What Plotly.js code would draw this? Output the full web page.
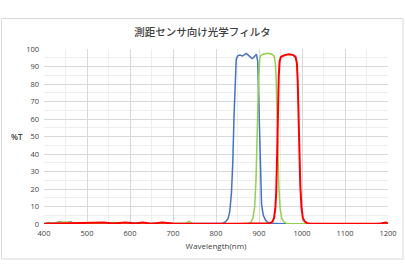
<!DOCTYPE html>
<html><head><meta charset="utf-8">
<script src="https://cdn.plot.ly/plotly-3.0.1.min.js"></script>
<style>html,body{margin:0;padding:0;background:#fff;}#chart{width:405px;height:280px;}</style>
</head><body><div id="chart"></div>
<script>
const titleText = "測距センサ向け光学フィルタ";
const xTitle = "Wavelength(nm)";
const yTitle = "%T";
const xTicks = [400,500,600,700,800,900,1000,1100,1200];
const yTicks = [0,10,20,30,40,50,60,70,80,90,100];

const blueX = [400,410,420,430,437,445,462,470,480,500,520,540,560,580,600,620,650,700,750,780,800,815,822,828,832,836,839,842,845,847,850,855,862,870,875,880,884,887,890,894,897,899,901,903,906,910,915,920,930,950,1000,1100,1200];
const blueY = [0,0.8,0.3,1.0,1.3,0.2,1.2,0.3,0.6,0.2,0.1,0.3,0.5,0.3,0.8,0.2,0.3,0.2,0.5,0.2,0.3,0.5,1.2,3,7,18,35,62,85,94,96,96.5,96,97.5,96.5,95.5,94.5,95,96,97,93,75,45,24,11,5,2.2,1.0,0.4,0.2,0.1,0.1,0.1];

const greenX = [400,412,425,440,460,475,490,510,530,550,565,580,600,630,660,690,710,730,737,745,770,800,830,860,875,882,886,890,893,896,899,902,905,910,920,930,935,938,940,942,944,946,949,953,958,963,970,1000,1100,1200];
const greenY = [0.2,0.6,0.4,1.2,1.0,0.4,0.5,0.2,0.4,0.6,0.8,0.5,0.4,0.2,0.3,0.2,0.3,0.4,1.5,0.3,0.2,0.1,0.1,0.2,0.5,1.2,3.5,10,25,55,83,95,96.5,97,97.5,97,96,92,82,62,40,22,9,3,1.2,0.5,0.3,0.1,0.1,0.1];

const redX = [400,420,450,480,505,540,560,590,610,630,650,675,700,720,750,800,850,880,900,915,925,931,935,938,940,942,944,946,948,951,955,960,970,980,985,988,990,992,994,996,999,1002,1006,1012,1020,1050,1100,1150,1180,1195,1200];
const redY = [0.1,0.2,0.1,0.4,0.5,0.8,0.3,0.9,0.3,0.8,0.2,0.8,0.3,0.2,0.3,0.1,0.1,0.2,0.1,0.2,0.4,1.2,3.5,9,18,38,65,85,93,95.5,96,96.5,97,96.5,95.5,92,82,62,40,22,9,3.5,1.5,0.5,0.2,0.1,0.1,0.1,0.2,0.8,0.4];

const traces = [
  {x: blueX, y: blueY, mode: "lines", line: {color: "#4472C4", width: 1.5}},
  {x: greenX, y: greenY, mode: "lines", line: {color: "#92D050", width: 1.5}},
  {x: redX, y: redY, mode: "lines", line: {color: "#FF0000", width: 2}}
];

const tickFont = {family: "Open Sans, Noto Sans, sans-serif", size: 7.5, color: "#404040"};
const layout = {
  width: 405, height: 280,
  margin: {l: 44, r: 17, t: 49, b: 56, pad: 0},
  paper_bgcolor: "#ffffff", plot_bgcolor: "#ffffff",
  showlegend: false,
  title: {text: titleText, font: {family: "Noto Sans CJK JP", size: 10.5, color: "#404040", weight: 500}, x: 0.5, xanchor: "center", y: 1 - 32/280, yanchor: "middle"},
  xaxis: {
    range: [400, 1200], tickvals: xTicks, ticktext: xTicks.map(String),
    showgrid: true, gridcolor: "#d9d9d9", gridwidth: 1,
    minor: {dtick: 50, tick0: 400, showgrid: true, gridcolor: "#eeeeee", gridwidth: 1},
    zeroline: false, showline: false, ticks: "",
    tickfont: tickFont, ticklabelstandoff: 3,
    title: {text: xTitle, font: {family: "Open Sans, Noto Sans, sans-serif", size: 8, color: "#404040"}, standoff: 6}
  },
  yaxis: {
    range: [0, 100], tickvals: yTicks, ticktext: yTicks.map(String),
    showgrid: true, gridcolor: "#d9d9d9", gridwidth: 1,
    minor: {dtick: 5, tick0: 0, showgrid: true, gridcolor: "#eeeeee", gridwidth: 1},
    zeroline: false, showline: false, ticks: "",
    tickfont: tickFont, ticklabelstandoff: 4
  },
  annotations: [
    {text: yTitle, xref: "paper", yref: "paper", x: (17-44)/344, y: (224-136.5)/175, xanchor: "center", yanchor: "middle", showarrow: false,
     font: {family: "Open Sans, Noto Sans, sans-serif", size: 8, color: "#404040", weight: 600}}
  ],
  shapes: [
    {type: "rect", xref: "paper", yref: "paper", x0: (1.5-44)/344, x1: (403-44)/344, y0: (224-259)/175, y1: (224-18.5)/175,
     line: {color: "#d9d9d9", width: 1}, fillcolor: "rgba(0,0,0,0)", layer: "below"}
  ]
};
Plotly.newPlot("chart", traces, layout, {staticPlot: true, displayModeBar: false});
</script></body></html>
